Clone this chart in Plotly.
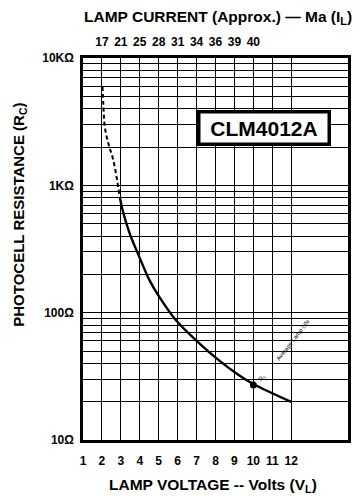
import plotly.graph_objects as go

# ---- data ----
volt_dashed = [2.03, 2.08, 2.15, 2.35, 2.6, 2.94]
res_dashed = [5960, 4200, 2890, 2100, 1580, 813]
volt_solid = [2.94, 3.09, 3.46, 3.98, 4.51, 5.03, 5.9, 7.13, 8.17, 9.22, 10.0, 12.0]
res_solid = [813, 640, 422, 273, 180, 133, 87.5, 57.7, 42.4, 32.4, 27.5, 19.9]
dot_volt = [10.0]
dot_res = [27.0]

x_ticks = list(range(1, 13))
top_volts = [2, 3, 4, 5, 6, 7, 8, 9, 10]
top_current_labels = ["17", "21", "25", "28", "31", "34", "36", "39", "40"]
y_tickvals = [10, 100, 1000, 10000]
y_ticktext = ["10Ω", "100Ω", "1KΩ", "10KΩ"]
minor_y = [m * d for d in (10, 100, 1000) for m in range(2, 10)]

FONT = "Liberation Sans, Arial, Helvetica, sans-serif"

fig = go.Figure()
fig.add_trace(go.Scatter(x=volt_dashed, y=res_dashed, mode="lines",
                         line=dict(color="black", width=2, dash="4px,3px", shape="spline"),
                         showlegend=False, hoverinfo="skip"))
fig.add_trace(go.Scatter(x=volt_solid, y=res_solid, mode="lines",
                         line=dict(color="black", width=2.4, shape="spline"),
                         showlegend=False, hoverinfo="skip"))
fig.add_trace(go.Scatter(x=dot_volt, y=dot_res, mode="markers",
                         marker=dict(color="black", size=7),
                         showlegend=False, hoverinfo="skip"))
# invisible trace for top axis
fig.add_trace(go.Scatter(x=[1, 15], y=[10, 10], xaxis="x2", mode="lines",
                         line=dict(width=0), showlegend=False, hoverinfo="skip"))

# page body has an 8px default margin, so the figure is 8px smaller
fig.update_layout(
    width=353, height=488,
    margin=dict(l=75, r=10, t=50, b=56),
    paper_bgcolor="white", plot_bgcolor="white",
    font=dict(family=FONT, color="black"),
    xaxis=dict(range=[1, 15], tickmode="array", tickvals=x_ticks,
               ticktext=[str(v) for v in x_ticks],
               showgrid=True, gridcolor="black", gridwidth=1.3,
               showline=True, linecolor="black", linewidth=2.5, mirror=True,
               ticks="outside", ticklen=0, ticklabelstandoff=8,
               tickfont=dict(size=12, weight="bold"), zeroline=False),
    xaxis2=dict(range=[1, 15], overlaying="x", side="top", tickmode="array",
                tickvals=top_volts, ticktext=top_current_labels,
                showgrid=False, ticks="outside", ticklen=0, ticklabelstandoff=6,
                tickfont=dict(size=12, weight="bold"), zeroline=False),
    yaxis=dict(type="log", range=[1, 4], tickmode="array", tickvals=y_tickvals,
               ticktext=y_ticktext,
               showgrid=True, gridcolor="black", gridwidth=1.3,
               minor=dict(tickvals=minor_y, showgrid=True, gridcolor="black", gridwidth=1.1),
               showline=True, linecolor="black", linewidth=2.5, mirror=True,
               ticks="outside", ticklen=0, ticklabelstandoff=4,
               tickfont=dict(size=12, weight="bold"), zeroline=False),
)

fig.add_annotation(text="LAMP CURRENT (Approx.) — Ma (I<sub>L</sub>)",
                   xref="paper", yref="paper", x=0.51, y=1.107,
                   xanchor="center", yanchor="middle",
                   showarrow=False, font=dict(size=15.5, weight="bold"))
fig.add_annotation(text="LAMP VOLTAGE -- Volts (V<sub>L</sub>)",
                   xref="paper", yref="paper", x=0.49, y=-0.118,
                   xanchor="center", yanchor="middle",
                   showarrow=False, font=dict(size=15.5, weight="bold"))
fig.add_annotation(text="PHOTOCELL RESISTANCE (R<sub>C</sub>)",
                   xref="paper", yref="paper", x=-0.2425, y=0.589,
                   xanchor="center", yanchor="middle",
                   textangle=-90, showarrow=False, font=dict(size=15, weight="bold"))
fig.add_annotation(text="CLM4012A", xref="paper", yref="paper", x=0.683, y=0.817,
                   xanchor="center", yanchor="middle",
                   showarrow=False, bgcolor="white", bordercolor="black",
                   borderwidth=3.5, borderpad=3, width=121,
                   font=dict(size=21, weight="bold"))
fig.add_annotation(text="R<sub>1</sub>", x=10.5, y=1.487, xref="x", yref="y",
                   xanchor="center", yanchor="middle",
                   showarrow=False, textangle=-52, font=dict(size=6))
fig.add_annotation(text="Average Lamp Life", x=12.1, y=1.785, xref="x", yref="y",
                   xanchor="center", yanchor="middle",
                   showarrow=False, textangle=-52, font=dict(size=6))

fig.write_html("out.html")
